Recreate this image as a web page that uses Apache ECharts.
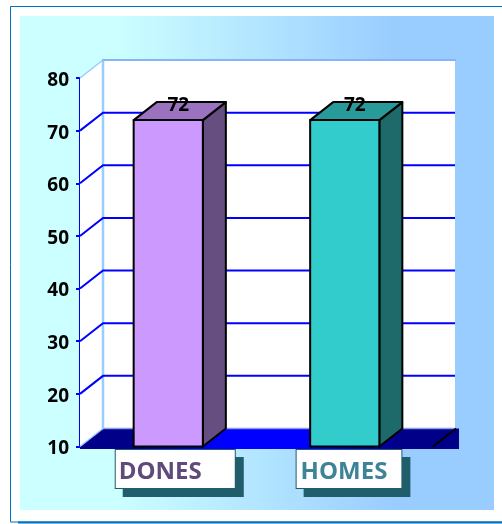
<!DOCTYPE html>
<html>
<head>
<meta charset="utf-8">
<style>html,body{margin:0;padding:0;background:#fff;overflow:hidden}#c{width:502px;height:524px}</style>
<script src="https://cdn.jsdelivr.net/npm/echarts@6/dist/echarts.min.js"></script>
</head>
<body>
<div id="c"></div>
<script>
const categories = ['DONES', 'HOMES'];
const values = [72, 72];
const yTicks = [20, 30, 40, 50, 60, 70];
const yMin = 10, yMax = 80, yStep = 10;

const FONT = '"Open Sans", sans-serif';
const DX = 23, DY = -18;
const faces = [
  { front: '#CC99FF', top: '#9A72BF', side: '#664E80' },
  { front: '#33CCCC', top: '#289A9A', side: '#1E6A6A' }
];

function frame(params, api) {
  const cs = params.coordSys;
  const l = cs.x, r = cs.x + cs.width, t = cs.y, b = cs.y + cs.height;
  const floorFill = new echarts.graphic.LinearGradient(0, 0, 1, 0, [
    { offset: 0, color: '#000088' }, { offset: 0.14, color: '#000088' },
    { offset: 0.36, color: '#0000FF' }, { offset: 0.62, color: '#0000FF' },
    { offset: 0.84, color: '#000088' }, { offset: 1, color: '#000088' }
  ]);
  const line = (x1, y1, x2, y2, stroke, w) => ({
    type: 'line', shape: { x1, y1, x2, y2 }, style: { stroke, lineWidth: w, fill: null }
  });
  return {
    type: 'group',
    children: [
      { type: 'rect', shape: { x: l + DX, y: t + DY, width: r - l - 1, height: b - t }, style: { fill: '#fff' } },
      { type: 'polygon', shape: { points: [[l, t], [l + DX, t + DY], [l + DX, b + DY], [l, b]] }, style: { fill: '#fff' } },
      { type: 'polygon', shape: { points: [[l, b], [l + DX, b + DY], [r + DX + 3, b + DY], [r + DX + 3, b + 2.5], [l, b + 2.5]] }, style: { fill: floorFill } },
      line(l + DX, b + DY, r + DX - 1, b + DY, '#8A9CF0', 1.5),
      line(r, b, r + DX, b + DY, '#000', 2),
      line(l + DX, t + DY, l + DX, b + DY, '#99CCFF', 2.5),
      line(l + DX - 1, t + DY, r + DX, t + DY, '#85B4F8', 2),
      line(l, t, l + DX, t + DY, '#99CCFF', 1.5),
      line(l, b, l + DX, b + DY, '#99CCFF', 1.5)
    ]
  };
}

function wallLine(params, api) {
  const cs = params.coordSys;
  const y = api.coord([0, api.value(1)])[1];
  const l = cs.x, r = cs.x + cs.width;
  return {
    type: 'polyline',
    shape: { points: [[l, y], [l + DX, y + DY], [r + DX - 1, y + DY]] },
    style: { stroke: '#0000FF', lineWidth: 2, fill: null }
  };
}

function cuboid(params, api) {
  const i = api.value(0), v = api.value(1);
  const cx = api.coord([i, v])[0], top = api.coord([i, v])[1], bot = api.coord([i, yMin])[1];
  const w = api.size([1, 0])[0] * 0.392;
  const x0 = cx - w / 2, x1 = cx + w / 2;
  const c = faces[i];
  const edge = { stroke: '#000', lineWidth: 2, lineJoin: 'round' };
  return {
    type: 'group',
    children: [
      { type: 'polygon', shape: { points: [[x1, top], [x1 + DX, top + DY], [x1 + DX, bot + DY], [x1, bot]] }, style: { fill: c.side, ...edge } },
      { type: 'polygon', shape: { points: [[x0, top], [x0 + DX, top + DY], [x1 + DX, top + DY], [x1, top]] }, style: { fill: c.top, ...edge } },
      { type: 'rect', shape: { x: x0, y: top, width: w, height: bot - top }, style: { fill: c.front, ...edge } },
      { type: 'text', style: { text: String(v), x: cx + 10, y: top + DY + 3, align: 'center', verticalAlign: 'middle',
          fill: '#000', font: 'bold 19px ' + FONT } }
    ]
  };
}

function boxStyle(color, w, left) {
  return {
    color, fontFamily: FONT, fontWeight: 'bold', fontSize: 24,
    backgroundColor: '#fff', borderColor: '#215968', borderWidth: 1,
    padding: [9, w, 2, left], height: 27, lineHeight: 27,
    shadowColor: '#215E6B', shadowOffsetX: 8, shadowOffsetY: 8, shadowBlur: 0
  };
}

const chart = echarts.init(document.getElementById('c'), null, { renderer: 'canvas' });
chart.setOption({
  animation: false,
  backgroundColor: '#fff',
  graphic: [
    { type: 'rect', z: -30, shape: { x: 10.5, y: 6.5, width: 520, height: 515.5 }, style: { fill: '#fff', stroke: '#0070C0', lineWidth: 1 } },
    { type: 'line', z: -29, shape: { x1: 18, y1: 522.5, x2: 502, y2: 522.5 }, style: { stroke: '#0070C0', lineWidth: 2 } },
    { type: 'rect', z: -28, shape: { x: 20, y: 16, width: 474, height: 494 }, style: {
        fill: new echarts.graphic.LinearGradient(0, 0, 1, 0, [
          { offset: 0, color: '#CCFFFF' }, { offset: 0.2, color: '#CCFFFF' },
          { offset: 0.8, color: '#99CCFF' }, { offset: 1, color: '#99CCFF' }
        ]) } }
  ],
  grid: { left: 80, right: 69, top: 78, bottom: 77.5, containLabel: false },
  xAxis: {
    type: 'category', data: categories,
    axisLine: { show: true, lineStyle: { color: '#000', width: 2 } },
    axisTick: { show: false },
    axisLabel: {
      interval: 0, margin: 9, verticalAlign: 'top',
      formatter: (v, i) => i === 0 ? '{s0|}{a|' + v + '}' : '{s1|}{b|' + v + '}',
      rich: {
        s0: { width: 14, height: 1 },
        s1: { width: 8.5, height: 1 },
        a: boxStyle('#604A7B', 33, 3),
        b: boxStyle('#3F8496', 14, 4)
      }
    }
  },
  yAxis: {
    type: 'value', min: yMin, max: yMax, interval: yStep,
    axisLine: { show: true, lineStyle: { color: '#0000FF', width: 2 } },
    axisTick: { show: true, length: 4, lineStyle: { color: '#0000FF', width: 2 } },
    splitLine: { show: false },
    axisLabel: { color: '#000', fontFamily: FONT, fontWeight: 'bold', fontSize: 19, margin: 11, verticalAlign: 'top', lineHeight: 5 }
  },
  series: [
    { type: 'custom', z: 1, silent: true, renderItem: frame, data: [[0, yMin]], encode: { x: 0, y: 1 }, clip: false },
    { type: 'custom', z: 2, silent: true, renderItem: wallLine, data: yTicks.map(t => [0, t]), encode: { x: 0, y: 1 }, clip: false },
    { type: 'custom', z: 3, silent: true, renderItem: cuboid, data: values.map((v, i) => [i, v]), encode: { x: 0, y: 1 }, clip: false }
  ]
});
</script>
</body>
</html>
